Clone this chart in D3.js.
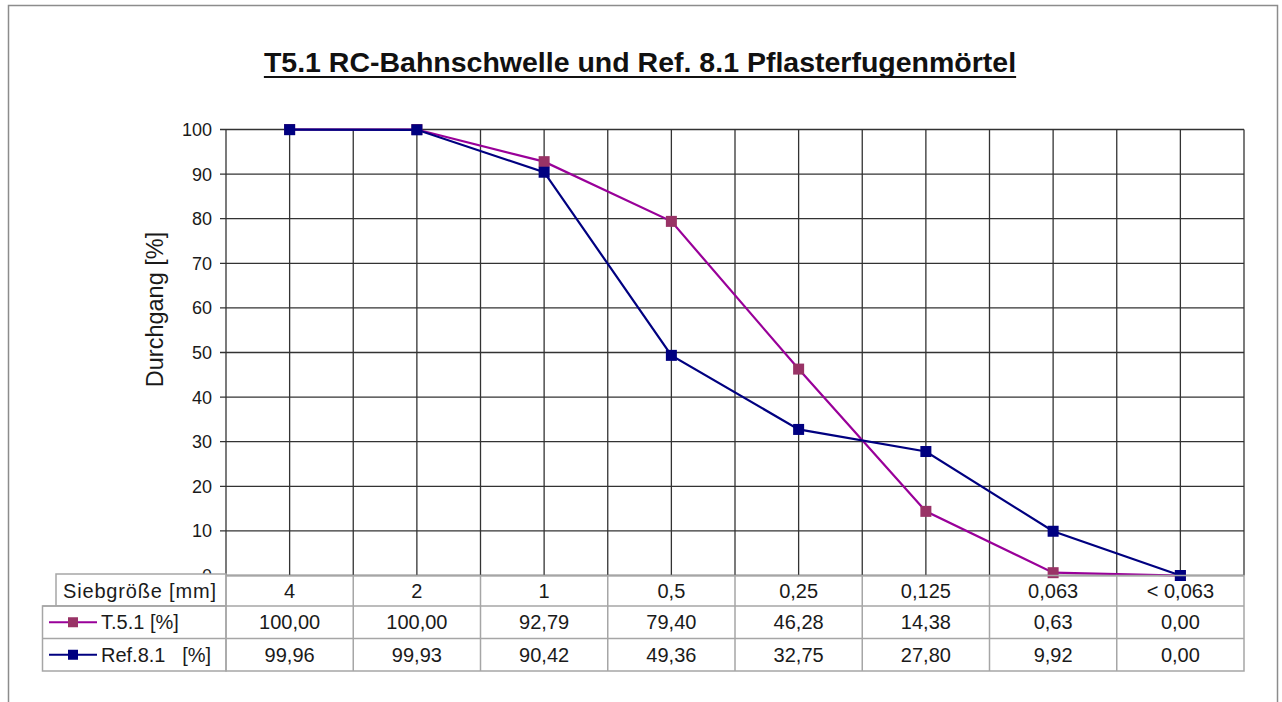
<!DOCTYPE html>
<html>
<head>
<meta charset="utf-8">
<script src="https://cdn.jsdelivr.net/npm/d3@7/dist/d3.min.js"></script>
<style>
  html, body { margin: 0; padding: 0; background: #fff; }
  svg { display: block; font-family: "Liberation Sans", Arial, sans-serif; }
</style>
</head>
<body>
<svg id="chart" width="1282" height="702"></svg>
<script>
// Sieve sizes (categories) and passing percentages per sample
const sieves = ["4", "2", "1", "0,5", "0,25", "0,125", "0,063", "< 0,063"];
const t51Values = [100.00, 100.00, 92.79, 79.40, 46.28, 14.38, 0.63, 0.00];
const ref81Values = [99.96, 99.93, 90.42, 49.36, 32.75, 27.80, 9.92, 0.00];
const yTickValues = [0, 10, 20, 30, 40, 50, 60, 70, 80, 90, 100];

const titleText = "T5.1 RC-Bahnschwelle und Ref. 8.1 Pflasterfugenmörtel";
const yAxisTitle = "Durchgang [%]";
const tableHeader = "Siebgröße [mm]";

const seriesList = [
  { name: "T.5.1 [%]", values: t51Values, line: "#990099", marker: "#993366" },
  { name: "Ref.8.1   [%]", values: ref81Values, line: "#000080", marker: "#000080" }
];

const de = d3.formatLocale({ decimal: ",", thousands: ".", grouping: [3], currency: ["", " €"] });
const fmt2 = de.format(".2f");

const svg = d3.select("#chart");

// Outer frame
svg.append("rect")
  .attr("x", 8.5).attr("y", 5.5).attr("width", 1269).attr("height", 720)
  .attr("fill", "none").attr("stroke", "#8c8c8c").attr("stroke-width", 1.5);

// Title with underline
const title = svg.append("text")
  .attr("x", 640).attr("y", 72)
  .attr("text-anchor", "middle")
  .attr("font-size", 28.5).attr("font-weight", "bold")
  .attr("fill", "#111")
  .text(titleText);
const tb = title.node().getBBox();
svg.append("line")
  .attr("x1", tb.x).attr("x2", tb.x + tb.width)
  .attr("y1", 77).attr("y2", 77)
  .attr("stroke", "#111").attr("stroke-width", 2.2);

// Plot area
const plot = { left: 226, right: 1244, top: 129.5, bottom: 575.5 };

const x = d3.scaleBand().domain(sieves).range([plot.left, plot.right]).padding(0);
const y = d3.scaleLinear().domain([0, 100]).range([plot.bottom, plot.top]);
const cx = d => x(d) + x.bandwidth() / 2;

const grid = svg.append("g");

// Horizontal gridlines with small outside ticks
grid.selectAll("line.h").data(yTickValues).join("line")
  .attr("class", "h")
  .attr("x1", plot.left - 6).attr("x2", plot.right)
  .attr("y1", d => y(d)).attr("y2", d => y(d))
  .attr("stroke", "#333").attr("stroke-width", 1.3);

// Vertical gridlines: category boundaries and category centres
const vPositions = [];
sieves.forEach(s => { vPositions.push(x(s)); vPositions.push(cx(s)); });
vPositions.push(plot.right);
grid.selectAll("line.v").data(vPositions).join("line")
  .attr("class", "v")
  .attr("x1", d => d).attr("x2", d => d)
  .attr("y1", plot.top).attr("y2", plot.bottom)
  .attr("stroke", "#333").attr("stroke-width", 1.3);

// Y tick labels (the zero label sits partly behind the table header)
svg.append("g").selectAll("text").data(yTickValues).join("text")
  .attr("x", plot.left - 14).attr("y", d => y(d) + 6.5)
  .attr("text-anchor", "end")
  .attr("font-size", 18).attr("fill", "#1a1a1a")
  .text(d => d);

// Y axis title
svg.append("text")
  .attr("transform", `translate(163, ${(plot.top + plot.bottom) / 2 - 43}) rotate(-90)`)
  .attr("text-anchor", "middle")
  .attr("font-size", 23.5).attr("fill", "#1a1a1a")
  .text(yAxisTitle);

// Series lines and markers (T5.1 first, Ref.8.1 on top)
const lineGen = d3.line().x((d, i) => cx(sieves[i])).y(d => y(d));
const ms = 11;
seriesList.forEach(s => {
  svg.append("path")
    .datum(s.values)
    .attr("d", lineGen)
    .attr("fill", "none").attr("stroke", s.line).attr("stroke-width", 2.2);
  svg.append("g").selectAll("rect").data(s.values).join("rect")
    .attr("x", (d, i) => cx(sieves[i]) - ms / 2)
    .attr("y", d => y(d) - ms / 2)
    .attr("width", ms).attr("height", ms)
    .attr("fill", s.marker);
});

// Data table below the plot
const rowTop = [575.5, 606, 638.5];
const rowBottom = 671;
const tableStroke = "#a6a6a6";
const table = svg.append("g");

// Header cell of first row
table.append("rect")
  .attr("x", 56).attr("y", rowTop[0] - 1.5)
  .attr("width", plot.left - 56).attr("height", rowTop[1] - rowTop[0] + 1.5)
  .attr("fill", "#fff").attr("stroke", tableStroke).attr("stroke-width", 1.5);
// Legend header cells
table.append("rect")
  .attr("x", 42.5).attr("y", rowTop[1])
  .attr("width", plot.left - 42.5).attr("height", rowBottom - rowTop[1])
  .attr("fill", "#fff").attr("stroke", tableStroke).attr("stroke-width", 1.5);
// Data body
table.append("rect")
  .attr("x", plot.left).attr("y", rowTop[0])
  .attr("width", plot.right - plot.left).attr("height", rowBottom - rowTop[0])
  .attr("fill", "none").attr("stroke", tableStroke).attr("stroke-width", 1.5);
// Row separators
table.selectAll("line.r").data([rowTop[1], rowTop[2]]).join("line")
  .attr("class", "r")
  .attr("x1", 42.5).attr("x2", plot.right)
  .attr("y1", d => d).attr("y2", d => d)
  .attr("stroke", tableStroke).attr("stroke-width", 1.5);
// Column separators
table.selectAll("line.c").data(sieves.slice(1)).join("line")
  .attr("class", "c")
  .attr("x1", d => x(d)).attr("x2", d => x(d))
  .attr("y1", rowTop[0]).attr("y2", rowBottom)
  .attr("stroke", tableStroke).attr("stroke-width", 1.5);

const textColor = "#1a1a1a";
const rowMid = [
  (rowTop[0] + rowTop[1]) / 2,
  (rowTop[1] + rowTop[2]) / 2,
  (rowTop[2] + rowBottom) / 2
];

// Header row: sieve sizes
table.append("text")
  .attr("x", 63).attr("y", rowMid[0] + 7)
  .attr("font-size", 20).attr("fill", textColor)
  .attr("textLength", 153)
  .text(tableHeader);
table.selectAll("text.sieve").data(sieves).join("text")
  .attr("class", "sieve")
  .attr("x", d => cx(d)).attr("y", rowMid[0] + 7)
  .attr("text-anchor", "middle")
  .attr("font-size", 20).attr("fill", textColor)
  .text(d => d);

// Series rows with legend keys and values
seriesList.forEach((s, r) => {
  const my = rowMid[r + 1];
  table.append("line")
    .attr("x1", 49).attr("x2", 97).attr("y1", my).attr("y2", my)
    .attr("stroke", s.line).attr("stroke-width", 2);
  table.append("rect")
    .attr("x", 73 - 5).attr("y", my - 5).attr("width", 10).attr("height", 10)
    .attr("fill", s.marker);
  table.append("text")
    .attr("x", 101).attr("y", my + 7)
    .attr("font-size", 20).attr("fill", textColor)
    .style("white-space", "pre")
    .attr("xml:space", "preserve")
    .text(s.name);
  table.selectAll(null).data(s.values).join("text")
    .attr("x", (d, i) => cx(sieves[i])).attr("y", my + 7)
    .attr("text-anchor", "middle")
    .attr("font-size", 20).attr("fill", textColor)
    .text(d => fmt2(d));
});
</script>
</body>
</html>
